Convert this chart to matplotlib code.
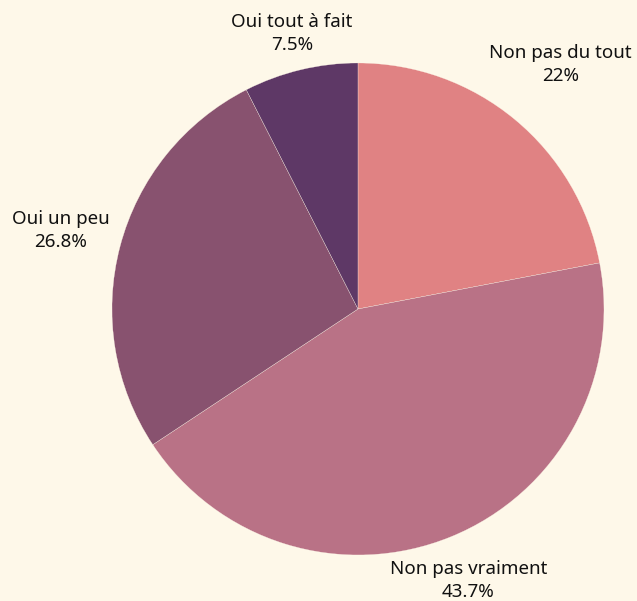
import matplotlib
matplotlib.use("Agg")
import matplotlib.pyplot as plt
import numpy as np

# Données
categories = ["Non pas du tout", "Non pas vraiment", "Oui un peu", "Oui tout à fait"]
valeurs = [22.0, 43.7, 26.8, 7.5]
etiquettes_pct = ["22%", "43.7%", "26.8%", "7.5%"]

COULEURS = ["#E08283", "#B97286", "#88526F", "#5E3866"]
FOND = "#FEF8E9"
# distance des étiquettes au centre (en rayons)
DIST_ETIQ = [1.29, 1.19, 1.25, 1.15]

plt.rcParams["font.family"] = ["Noto Sans", "DejaVu Sans"]

fig = plt.figure(figsize=(6.37, 6.01), dpi=100, facecolor=FOND)
ax = fig.add_axes([0, 0, 1, 1])
ax.set_facecolor(FOND)

wedges, _ = ax.pie(
    valeurs, colors=COULEURS, startangle=90, counterclock=False,
    radius=1.0, wedgeprops=dict(edgecolor=FOND, linewidth=0.2),
)

for w, nom, pct, d in zip(wedges, categories, etiquettes_pct, DIST_ETIQ):
    ang = np.deg2rad((w.theta1 + w.theta2) / 2)
    ax.text(d * np.cos(ang), d * np.sin(ang), f"{nom}\n{pct}",
            ha="center", va="center", fontsize=13.5, color="#111111",
            linespacing=1.35)

ax.set_xlim(-1.455, 1.134)
ax.set_ylim(-1.187, 1.256)
ax.set_aspect("equal")
ax.axis("off")

fig.savefig("out.png", dpi=100, facecolor=FOND)
